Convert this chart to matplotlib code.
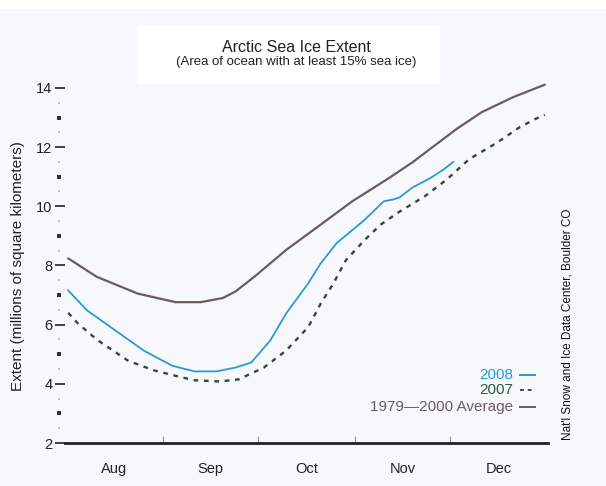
import matplotlib
matplotlib.use("Agg")
import matplotlib.pyplot as plt
from matplotlib.lines import Line2D
from matplotlib.patches import Rectangle
import matplotlib.transforms as mtransforms
import numpy as np

plt.rcParams['font.family'] = ['Liberation Sans', 'DejaVu Sans']

# Days since Aug 1
avg_days = [1, 10, 23, 35, 43, 50, 54, 60, 70, 81, 91, 102, 110, 124, 132, 142, 152]
avg_vals = [8.24, 7.62, 7.05, 6.76, 6.76, 6.90, 7.12, 7.62, 8.52, 9.38, 10.17, 10.91, 11.48, 12.61, 13.18, 13.69, 14.11]

y2008_days = [1, 7, 16, 25, 28, 34, 41, 48, 54, 59, 65, 70, 77, 81, 86, 95, 101, 104, 106, 110, 116, 120, 123]
y2008_vals = [7.16, 6.48, 5.80, 5.12, 4.95, 4.61, 4.42, 4.42, 4.55, 4.72, 5.46, 6.37, 7.39, 8.07, 8.75, 9.55, 10.17, 10.23, 10.30, 10.63, 10.97, 11.25, 11.50]

y2007_days = [1, 4, 10, 20, 28, 35, 41, 49, 55, 63, 70, 77, 81, 85, 89, 95, 100, 106, 114, 121, 128, 137, 144, 149, 152]
y2007_vals = [6.40, 6.05, 5.50, 4.78, 4.46, 4.27, 4.12, 4.08, 4.15, 4.55, 5.12, 5.91, 6.71, 7.39, 8.18, 8.87, 9.38, 9.82, 10.34, 10.91, 11.59, 12.16, 12.67, 12.95, 13.09]

months = ['Aug', 'Sep', 'Oct', 'Nov', 'Dec']
month_starts = [0, 31, 61, 92, 122, 153]
yticks = [2, 4, 6, 8, 10, 12, 14]
yminor_odd = [3, 5, 7, 9, 11, 13]
yminor_half = [2.5, 3.5, 4.5, 5.5, 6.5, 7.5, 8.5, 9.5, 10.5, 11.5, 12.5, 13.5]

W, H = 606, 486
BG = '#f6f8fb'
fig = plt.figure(figsize=(W / 100, H / 100), dpi=100, facecolor=BG)

def fx(x):
    return x / W

def fy(y):
    return 1 - y / H

# white strip at top and white box behind title
fig.patches.append(Rectangle((0, fy(9)), 1, 9 / H, transform=fig.transFigure, facecolor='white', edgecolor='none', zorder=0))
fig.patches.append(Rectangle((fx(137), fy(84)), 303 / W, 58 / H, transform=fig.transFigure, facecolor='white', edgecolor='none', zorder=0))

ax = fig.add_axes([fx(65), fy(443), (548 - 65) / W, (443 - 82) / H])
ax.set_facecolor('none')

ax.plot(avg_days, avg_vals, color='#6b5c5c', lw=1.6, solid_capstyle='round', zorder=3)
ax.plot(y2008_days, y2008_vals, color='#2a9ad6', lw=1.3, zorder=4)
ax.plot(y2007_days, y2007_vals, color='#2f4a38', lw=1.7, linestyle=(0, (2.0, 2.4)), zorder=3)

ax.set_xlim(0, 153)
ax.set_ylim(2, 14.2)

for s in ['top', 'right', 'left']:
    ax.spines[s].set_visible(False)
ax.spines['bottom'].set_color('#222222')
ax.spines['bottom'].set_linewidth(2.0)

ax.set_xticks(month_starts[1:-1])
ax.set_xticklabels([])
ax.tick_params(axis='x', direction='in', length=5, width=0.8, color='#999999')
ax.set_xticks([(month_starts[i] + month_starts[i + 1]) / 2 for i in range(5)], minor=True)
ax.set_xticklabels(months, minor=True, fontsize=10.5, color='#222222')
ax.tick_params(axis='x', which='minor', length=0, pad=14)

ax.set_yticks(yticks)
ax.set_yticklabels([str(v) for v in yticks], fontsize=10.5, color='#222222')
ax.tick_params(axis='y', which='major', direction='out', length=7, width=1.3, color='#333333', pad=2)

# minor tick dots, drawn just left of the axis
trans = mtransforms.blended_transform_factory(ax.transAxes, ax.transData)
ax.plot([-0.012] * len(yminor_odd), yminor_odd, linestyle='none', marker='s', markersize=2.2,
        color='#333333', markeredgewidth=0, transform=trans, clip_on=False)
ax.plot([-0.012] * len(yminor_half), yminor_half, linestyle='none', marker='s', markersize=2.0,
        color='#c4c4c4', markeredgewidth=0, transform=trans, clip_on=False)

fig.text(fx(18), fy(266), 'Extent (millions of square kilometers)', rotation=90,
         ha='center', va='center', fontsize=11, color='#222222')

fig.text(fx(296), fy(47), 'Arctic Sea Ice Extent', ha='center', va='center', fontsize=11.5, color='#222222')
fig.text(fx(296), fy(62), '(Area of ocean with at least 15% sea ice)', ha='center', va='center', fontsize=9.5, color='#222222')

fig.text(fx(568), fy(324), "Nat'l Snow and Ice Data Center, Boulder CO", rotation=90,
         ha='center', va='center', fontsize=8.5, color='#111111')

# legend
leg = [('2008', '#2a9ad6', '-', 375), ('2007', '#2f5a3c', (0, (2.0, 2.0)), 390),
       ('1979\u20142000 Average', '#6b5c5c', '-', 407)]
for label, col, ls, y in leg:
    fig.text(fx(513), fy(y), label, ha='right', va='center', fontsize=11, color=col)
    fig.add_artist(Line2D([fx(520), fx(535)], [fy(y), fy(y)], transform=fig.transFigure,
                          color=col, lw=1.4, linestyle=ls))

fig.savefig('out.png', dpi=100, facecolor=BG)
